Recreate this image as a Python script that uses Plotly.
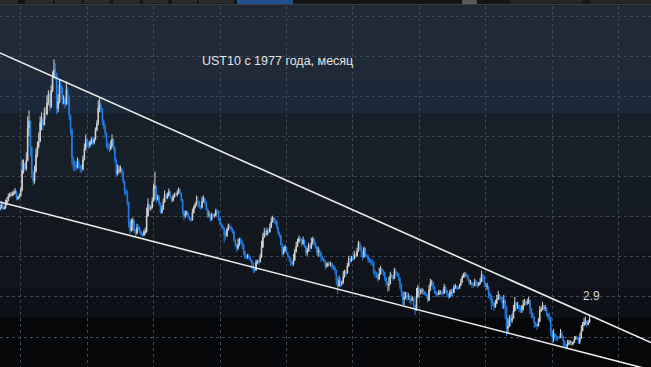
import pandas as pd
import plotly.graph_objects as go

# ---------------- DATA (monthly UST10 yield, %, Jan 1977 .. Dec 2013) ----------------
first_open = 7.10

close = [
    7.21, 7.39, 7.46, 7.37, 7.46, 7.28, 7.33, 7.40, 7.34, 7.52, 7.58, 7.69,   # 1977
    7.96, 8.03, 8.04, 8.15, 8.35, 8.46, 8.64, 8.41, 8.42, 8.64, 8.81, 9.01,   # 1978
    9.10, 9.10, 9.12, 9.18, 9.25, 8.91, 8.95, 9.03, 9.33, 10.30, 10.65, 10.39,  # 1979
    10.80, 12.41, 12.75, 11.47, 10.18, 9.78, 10.25, 11.10, 11.51, 11.75, 12.68, 12.84,  # 1980
    12.57, 13.19, 13.12, 13.68, 14.10, 13.47, 14.28, 14.94, 15.32, 15.15, 13.39, 13.72,  # 1981
    14.59, 14.43, 13.86, 13.87, 13.62, 14.30, 13.95, 13.06, 12.34, 10.91, 10.55, 10.54,  # 1982
    10.46, 10.72, 10.51, 10.40, 10.38, 10.85, 11.38, 11.85, 11.65, 11.54, 11.69, 11.83,  # 1983
    11.67, 11.84, 12.32, 12.63, 13.41, 13.56, 13.36, 12.72, 12.52, 12.16, 11.57, 11.50,  # 1984
    11.38, 11.51, 11.86, 11.43, 10.85, 10.16, 10.31, 10.33, 10.37, 10.24, 9.78, 9.26,   # 1985
    9.19, 8.70, 7.78, 7.30, 7.71, 7.80, 7.30, 7.17, 7.45, 7.43, 7.25, 7.11,   # 1986
    7.08, 7.25, 7.25, 8.02, 8.61, 8.40, 8.45, 8.76, 9.42, 9.52, 8.86, 8.99,   # 1987
    8.67, 8.21, 8.37, 8.72, 9.09, 8.92, 9.06, 9.26, 8.98, 8.80, 8.96, 9.11,   # 1988
    9.09, 9.17, 9.36, 9.18, 8.86, 8.28, 8.02, 8.11, 8.19, 8.01, 7.87, 7.84,   # 1989
    8.21, 8.47, 8.59, 8.79, 8.76, 8.48, 8.47, 8.75, 8.89, 8.72, 8.39, 8.08,   # 1990
    8.09, 7.85, 8.11, 8.04, 8.07, 8.28, 8.27, 7.90, 7.65, 7.53, 7.42, 7.09,   # 1991
    7.03, 7.34, 7.54, 7.48, 7.39, 7.26, 6.84, 6.59, 6.42, 6.59, 6.87, 6.77,   # 1992
    6.60, 6.26, 5.98, 5.97, 6.04, 5.96, 5.81, 5.68, 5.36, 5.33, 5.72, 5.77,   # 1993
    5.75, 5.97, 6.48, 6.97, 7.18, 7.10, 7.30, 7.24, 7.46, 7.74, 7.96, 7.81,   # 1994
    7.78, 7.47, 7.20, 7.06, 6.63, 6.17, 6.28, 6.49, 6.20, 6.04, 5.93, 5.71,   # 1995
    5.65, 5.81, 6.27, 6.51, 6.74, 6.91, 6.87, 6.64, 6.83, 6.53, 6.20, 6.30,   # 1996
    6.58, 6.42, 6.69, 6.89, 6.71, 6.49, 6.22, 6.30, 6.21, 6.03, 5.88, 5.81,   # 1997
    5.54, 5.57, 5.65, 5.64, 5.65, 5.50, 5.46, 5.34, 4.81, 4.53, 4.83, 4.65,   # 1998
    4.72, 5.00, 5.23, 5.18, 5.54, 5.90, 5.79, 5.94, 5.92, 6.11, 6.03, 6.28,   # 1999
    6.66, 6.52, 6.26, 5.99, 6.44, 6.10, 6.05, 5.83, 5.80, 5.74, 5.72, 5.24,   # 2000
    5.16, 5.10, 4.89, 5.14, 5.39, 5.28, 5.24, 4.97, 4.73, 4.57, 4.65, 5.09,   # 2001
    5.04, 4.91, 5.28, 5.21, 5.16, 4.93, 4.65, 4.26, 3.87, 3.94, 4.05, 4.03,   # 2002
    4.05, 3.90, 3.81, 3.96, 3.57, 3.33, 3.98, 4.45, 4.27, 4.29, 4.30, 4.27,   # 2003
    4.15, 4.08, 3.83, 4.35, 4.72, 4.73, 4.50, 4.28, 4.13, 4.10, 4.19, 4.23,   # 2004
    4.22, 4.17, 4.50, 4.34, 4.14, 4.00, 4.18, 4.26, 4.20, 4.46, 4.54, 4.47,   # 2005
    4.42, 4.57, 4.72, 4.99, 5.11, 5.11, 5.09, 4.88, 4.72, 4.73, 4.60, 4.56,   # 2006
    4.76, 4.72, 4.56, 4.69, 4.75, 5.10, 5.00, 4.67, 4.52, 4.53, 4.15, 4.10,   # 2007
    3.74, 3.74, 3.51, 3.68, 3.88, 4.10, 4.01, 3.89, 3.69, 3.81, 3.53, 2.42,   # 2008
    2.52, 2.87, 2.82, 2.93, 3.29, 3.72, 3.56, 3.59, 3.40, 3.39, 3.40, 3.59,   # 2009
    3.73, 3.69, 3.73, 3.85, 3.42, 3.20, 3.01, 2.70, 2.65, 2.54, 2.76, 3.29,   # 2010
    3.39, 3.58, 3.41, 3.46, 3.17, 3.00, 3.00, 2.30, 1.98, 2.15, 2.01, 1.98,   # 2011
    1.97, 1.97, 2.17, 2.05, 1.80, 1.62, 1.53, 1.68, 1.72, 1.75, 1.65, 1.72,   # 2012
    1.91, 1.98, 1.96, 1.76, 1.93, 2.30, 2.58, 2.74, 2.81, 2.62, 2.72, 2.90,   # 2013
]

high = [
    7.30, 7.48, 7.55, 7.50, 7.55, 7.50, 7.42, 7.50, 7.48, 7.60, 7.66, 7.78,
    8.05, 8.10, 8.12, 8.22, 8.42, 8.55, 8.75, 8.68, 8.52, 8.85, 8.98, 9.15,
    9.20, 9.22, 9.25, 9.32, 9.42, 9.30, 9.05, 9.15, 9.45, 10.85, 10.85, 10.70,
    11.20, 13.00, 13.30, 12.80, 11.50, 10.30, 10.55, 11.40, 11.75, 12.20, 13.00, 13.20,
    12.95, 13.45, 13.45, 14.05, 14.30, 14.15, 14.55, 15.25, 15.84, 15.65, 15.10, 14.10,
    14.85, 14.80, 14.50, 14.05, 13.95, 14.75, 14.45, 14.05, 13.10, 12.40, 11.00, 10.80,
    10.75, 10.95, 10.85, 10.60, 10.60, 11.05, 11.65, 12.10, 11.90, 11.75, 11.80, 11.95,
    11.95, 11.95, 12.45, 12.80, 13.80, 13.95, 13.70, 13.40, 12.85, 12.60, 12.20, 11.75,
    11.65, 11.80, 12.10, 11.90, 11.50, 10.90, 10.60, 10.55, 10.55, 10.45, 10.30, 9.80,
    9.40, 9.30, 8.75, 7.85, 7.90, 7.95, 7.85, 7.40, 7.65, 7.60, 7.50, 7.30,
    7.20, 7.35, 7.45, 8.45, 8.90, 8.65, 8.55, 8.95, 9.65, 10.25, 9.00, 9.10,
    9.05, 8.70, 8.55, 8.90, 9.30, 9.15, 9.20, 9.40, 9.25, 9.00, 9.10, 9.20,
    9.20, 9.30, 9.45, 9.40, 9.20, 8.85, 8.30, 8.30, 8.30, 8.20, 8.05, 7.95,
    8.40, 8.55, 8.70, 9.05, 9.00, 8.75, 8.55, 9.00, 9.05, 8.95, 8.75, 8.40,
    8.30, 8.15, 8.20, 8.15, 8.15, 8.40, 8.35, 8.30, 7.95, 7.70, 7.60, 7.45,
    7.30, 7.45, 7.65, 7.65, 7.55, 7.45, 7.30, 6.90, 6.65, 6.90, 6.95, 6.95,
    6.80, 6.65, 6.10, 6.10, 6.15, 6.15, 6.00, 5.85, 5.70, 5.50, 5.85, 5.85,
    5.90, 6.15, 6.80, 7.20, 7.45, 7.35, 7.45, 7.40, 7.65, 7.95, 8.05, 7.95,
    7.90, 7.80, 7.50, 7.25, 7.10, 6.65, 6.50, 6.60, 6.50, 6.25, 6.05, 5.95,
    5.80, 6.15, 6.40, 6.75, 6.90, 7.05, 7.00, 6.90, 7.00, 6.85, 6.55, 6.45,
    6.70, 6.60, 6.95, 7.00, 6.95, 6.75, 6.55, 6.50, 6.40, 6.25, 6.05, 5.95,
    5.85, 5.70, 5.75, 5.75, 5.75, 5.70, 5.60, 5.55, 5.35, 4.95, 5.05, 4.95,
    4.80, 5.30, 5.35, 5.35, 5.70, 6.05, 5.95, 6.05, 6.05, 6.30, 6.20, 6.45,
    6.80, 6.75, 6.55, 6.30, 6.50, 6.45, 6.15, 6.10, 5.95, 5.90, 5.90, 5.75,
    5.35, 5.25, 5.15, 5.45, 5.55, 5.45, 5.35, 5.25, 4.95, 4.80, 5.00, 5.25,
    5.15, 5.10, 5.45, 5.40, 5.25, 5.15, 4.90, 4.65, 4.20, 4.25, 4.25, 4.25,
    4.20, 4.05, 4.10, 4.05, 3.95, 3.60, 4.45, 4.60, 4.50, 4.40, 4.45, 4.40,
    4.30, 4.20, 4.10, 4.60, 4.90, 4.85, 4.65, 4.55, 4.25, 4.25, 4.35, 4.35,
    4.30, 4.40, 4.65, 4.55, 4.35, 4.20, 4.35, 4.40, 4.40, 4.60, 4.65, 4.55,
    4.55, 4.65, 4.90, 5.10, 5.20, 5.25, 5.20, 5.10, 4.90, 4.85, 4.75, 4.70,
    4.90, 4.85, 4.65, 4.75, 4.95, 5.30, 5.15, 4.95, 4.70, 4.70, 4.55, 4.25,
    4.10, 3.95, 3.75, 3.85, 4.10, 4.30, 4.15, 4.05, 4.00, 4.10, 3.90, 3.00,
    2.95, 3.10, 3.05, 3.15, 3.60, 4.00, 3.70, 3.75, 3.55, 3.55, 3.60, 3.85,
    3.90, 3.80, 3.90, 4.00, 3.70, 3.35, 3.10, 3.00, 2.75, 2.65, 2.95, 3.55,
    3.50, 3.75, 3.60, 3.60, 3.35, 3.20, 3.20, 2.80, 2.25, 2.40, 2.20, 2.10,
    2.05, 2.05, 2.40, 2.30, 2.00, 1.75, 1.65, 1.85, 1.85, 1.85, 1.80, 1.80,
    2.05, 2.05, 2.07, 1.95, 2.20, 2.60, 2.75, 2.95, 3.00, 2.75, 2.85, 3.05,
]

low = [
    7.05, 7.18, 7.33, 7.30, 7.32, 7.22, 7.24, 7.28, 7.29, 7.30, 7.46, 7.52,
    7.62, 7.90, 7.96, 7.98, 8.10, 8.30, 8.40, 8.33, 8.35, 8.38, 8.55, 8.75,
    8.95, 9.00, 9.02, 9.05, 9.12, 8.82, 8.82, 8.90, 9.00, 9.25, 10.15, 10.25,
    10.30, 10.75, 12.00, 11.00, 9.90, 9.55, 9.65, 10.20, 10.95, 11.40, 11.70, 12.30,
    12.30, 12.55, 12.85, 13.05, 13.55, 13.25, 13.40, 14.20, 14.90, 14.80, 13.10, 13.20,
    13.65, 14.10, 13.60, 13.60, 13.40, 13.55, 13.60, 12.80, 12.10, 10.60, 10.30, 10.25,
    10.30, 10.40, 10.40, 10.20, 10.20, 10.30, 10.80, 11.30, 11.45, 11.40, 11.45, 11.60,
    11.55, 11.60, 11.80, 12.25, 12.55, 13.20, 13.20, 12.55, 12.35, 11.95, 11.40, 11.30,
    11.20, 11.30, 11.45, 11.30, 10.70, 10.00, 10.05, 10.15, 10.20, 10.05, 9.65, 9.10,
    9.05, 8.55, 7.45, 7.15, 7.25, 7.30, 7.20, 7.00, 7.10, 7.30, 7.15, 7.05,
    7.00, 7.02, 7.10, 7.20, 8.00, 8.30, 8.30, 8.40, 8.75, 8.85, 8.70, 8.80,
    8.55, 8.15, 8.15, 8.35, 8.70, 8.80, 8.90, 9.00, 8.90, 8.70, 8.75, 8.95,
    9.00, 9.00, 9.15, 9.10, 8.75, 8.10, 7.80, 7.95, 8.10, 7.90, 7.80, 7.75,
    7.80, 8.15, 8.40, 8.55, 8.50, 8.40, 8.35, 8.40, 8.70, 8.60, 8.30, 7.95,
    7.95, 7.75, 7.80, 7.95, 7.95, 8.00, 8.15, 7.80, 7.55, 7.45, 7.35, 6.70,
    6.85, 7.00, 7.30, 7.40, 7.25, 7.15, 6.75, 6.50, 6.25, 6.35, 6.55, 6.65,
    6.40, 6.10, 5.90, 5.85, 5.90, 5.85, 5.75, 5.40, 5.20, 5.20, 5.30, 5.65,
    5.60, 5.70, 5.95, 6.45, 6.95, 7.00, 7.05, 7.15, 7.20, 7.45, 7.70, 7.65,
    7.60, 7.40, 7.10, 6.95, 6.55, 6.00, 6.10, 6.25, 6.15, 5.95, 5.75, 5.55,
    5.55, 5.55, 5.80, 6.20, 6.50, 6.70, 6.75, 6.50, 6.60, 6.45, 6.05, 6.05,
    6.25, 6.25, 6.40, 6.60, 6.55, 6.40, 6.05, 6.00, 6.05, 5.75, 5.80, 5.70,
    5.35, 5.45, 5.50, 5.55, 5.50, 5.35, 5.35, 5.15, 4.60, 4.15, 4.50, 4.50,
    4.55, 4.65, 4.95, 5.05, 5.15, 5.50, 5.65, 5.75, 5.80, 5.85, 5.95, 6.00,
    6.25, 6.35, 6.00, 5.80, 5.95, 6.00, 5.95, 5.70, 5.70, 5.60, 5.55, 5.10,
    4.95, 4.95, 4.75, 4.85, 5.10, 5.15, 5.05, 4.80, 4.55, 4.25, 4.30, 4.65,
    4.95, 4.80, 4.90, 5.05, 5.00, 4.80, 4.40, 4.00, 3.60, 3.60, 3.90, 3.80,
    3.85, 3.70, 3.60, 3.80, 3.40, 3.10, 3.30, 3.95, 3.90, 4.10, 4.15, 4.10,
    4.05, 3.95, 3.70, 3.80, 4.30, 4.55, 4.35, 4.15, 4.00, 4.00, 4.10, 4.10,
    4.10, 4.00, 4.15, 4.20, 4.00, 3.90, 3.95, 4.05, 4.00, 4.20, 4.40, 4.35,
    4.35, 4.50, 4.55, 4.70, 4.95, 4.95, 5.00, 4.80, 4.60, 4.60, 4.45, 4.45,
    4.55, 4.50, 4.45, 4.55, 4.60, 4.80, 4.75, 4.50, 4.35, 4.35, 3.95, 3.85,
    3.35, 3.55, 3.30, 3.45, 3.65, 3.85, 3.85, 3.75, 3.40, 3.40, 2.90, 2.05,
    2.15, 2.60, 2.55, 2.70, 3.10, 3.45, 3.35, 3.40, 3.25, 3.20, 3.20, 3.30,
    3.60, 3.55, 3.60, 3.65, 3.15, 2.95, 2.90, 2.45, 2.50, 2.35, 2.55, 2.75,
    3.25, 3.35, 3.30, 3.30, 3.05, 2.85, 2.75, 2.05, 1.70, 1.75, 1.85, 1.80,
    1.80, 1.90, 1.95, 1.90, 1.55, 1.45, 1.38, 1.45, 1.60, 1.60, 1.55, 1.58,
    1.70, 1.85, 1.85, 1.65, 1.65, 1.90, 2.30, 2.55, 2.60, 2.50, 2.60, 2.70,
]

# channel (trend) lines: value at left and right edge of the visible window
upper_trend = [16.16, 1.72]
lower_trend = [8.73, 0.36]

title_text = "UST10 с 1977 года, месяц"
last_label = "2.9"

# ---------------- BUILD ----------------
W, H = 651, 367
months = pd.date_range("1977-01-01", periods=len(close), freq="MS")
opens = [first_open] + close[:-1]
hi = [max(h, o, c) for h, o, c in zip(high, opens, close)]
lo = [min(l, o, c) for l, o, c in zip(low, opens, close)]

x_start = pd.Timestamp("1978-06-02")
x_end = pd.Timestamp("2017-08-13")
grid_x = [pd.Timestamp("1979-09-01") + pd.DateOffset(months=48 * k) for k in range(10)]
y_range = [0.505, 18.80]

fig = go.Figure()

fig.add_trace(go.Candlestick(
    x=months, open=opens, high=hi, low=lo, close=close,
    increasing=dict(line=dict(color="#d2d2d2", width=1), fillcolor="#e8e8e8"),
    decreasing=dict(line=dict(color="#1f80ea", width=1), fillcolor="#1f80ea"),
    whiskerwidth=0, showlegend=False, hoverinfo="skip",
))

fig.add_trace(go.Scatter(
    x=[x_start, x_end], y=upper_trend, mode="lines",
    line=dict(color="#ececec", width=1.6), showlegend=False, hoverinfo="skip",
))
fig.add_trace(go.Scatter(
    x=[x_start, x_end], y=lower_trend, mode="lines",
    line=dict(color="#ececec", width=1.6), showlegend=False, hoverinfo="skip",
))

# background gradient (stepped bands, in pixels from the top)
bands = [
    (0, 78, "#1f2a36"),
    (78, 113, "#1c293a"),
    (113, 175, "#171f29"),
    (175, 215, "#151b24"),
    (215, 252, "#13181f"),
    (252, 288, "#11141b"),
    (288, 318, "#0e1017"),
    (318, 367, "#060708"),
]
shapes = []
for y0, y1, col in bands:
    shapes.append(dict(type="rect", xref="paper", yref="paper",
                       x0=0, x1=1, y0=1 - y1 / H, y1=1 - y0 / H,
                       fillcolor=col, line=dict(width=0), layer="below"))

# top toolbar strip
def px_rect(x0, x1, y0, y1, col):
    return dict(type="rect", xref="paper", yref="paper",
                x0=x0 / W, x1=x1 / W, y0=1 - y1 / H, y1=1 - y0 / H,
                fillcolor=col, line=dict(width=0), layer="above")

shapes.append(px_rect(0, W, 0, 4, "#141414"))
for bx0, bx1 in [(0, 18), (25, 53), (55, 82), (84, 110), (113, 140), (143, 168), (172, 197), (199, 234)]:
    shapes.append(px_rect(bx0, bx1, 0, 3.5, "#2b2b2b"))
shapes.append(px_rect(237, 293, 0, 4, "#22508e"))
shapes.append(px_rect(462, 477, 0, 4, "#595959"))
shapes.append(px_rect(510, 583, 0, 3.5, "#262626"))
shapes.append(px_rect(590, 651, 0, 3.5, "#262626"))
shapes.append(px_rect(0, W, 4, 5, "#3d3d3d"))

fig.update_layout(
    width=W, height=H,
    margin=dict(l=0, r=0, t=0, b=0),
    paper_bgcolor="#050505",
    plot_bgcolor="rgba(0,0,0,0)",
    shapes=shapes,
    hovermode=False,
    showlegend=False,
    xaxis=dict(type="date", range=[x_start, x_end], rangeslider=dict(visible=False),
               tickvals=grid_x, showticklabels=False, ticks="",
               showgrid=True, gridcolor="#3e4856", gridwidth=1, griddash="dot",
               zeroline=False, showline=False, fixedrange=True),
    yaxis=dict(range=y_range, tickvals=list(range(2, 19, 2)), showticklabels=False, ticks="",
               showgrid=True, gridcolor="#3e4856", gridwidth=1, griddash="dot",
               zeroline=False, showline=False, fixedrange=True),
    annotations=[
        dict(text=title_text, xref="paper", yref="paper", x=200 / W, y=1 - 61.5 / H,
             xanchor="left", yanchor="middle", showarrow=False,
             font=dict(family="Liberation Sans, Arial, sans-serif", size=12.5, color="#e4e4e4")),
        dict(text=last_label, xref="paper", yref="paper", x=581 / W, y=1 - 296 / H,
             xanchor="left", yanchor="middle", showarrow=False,
             font=dict(family="Liberation Sans, Arial, sans-serif", size=12, color="#d8d8d8")),
    ],
)

fig.write_html(
    "out.html",
    config=dict(displayModeBar=False),
    post_script="document.body.style.margin='0';document.body.style.overflow='hidden';",
)
